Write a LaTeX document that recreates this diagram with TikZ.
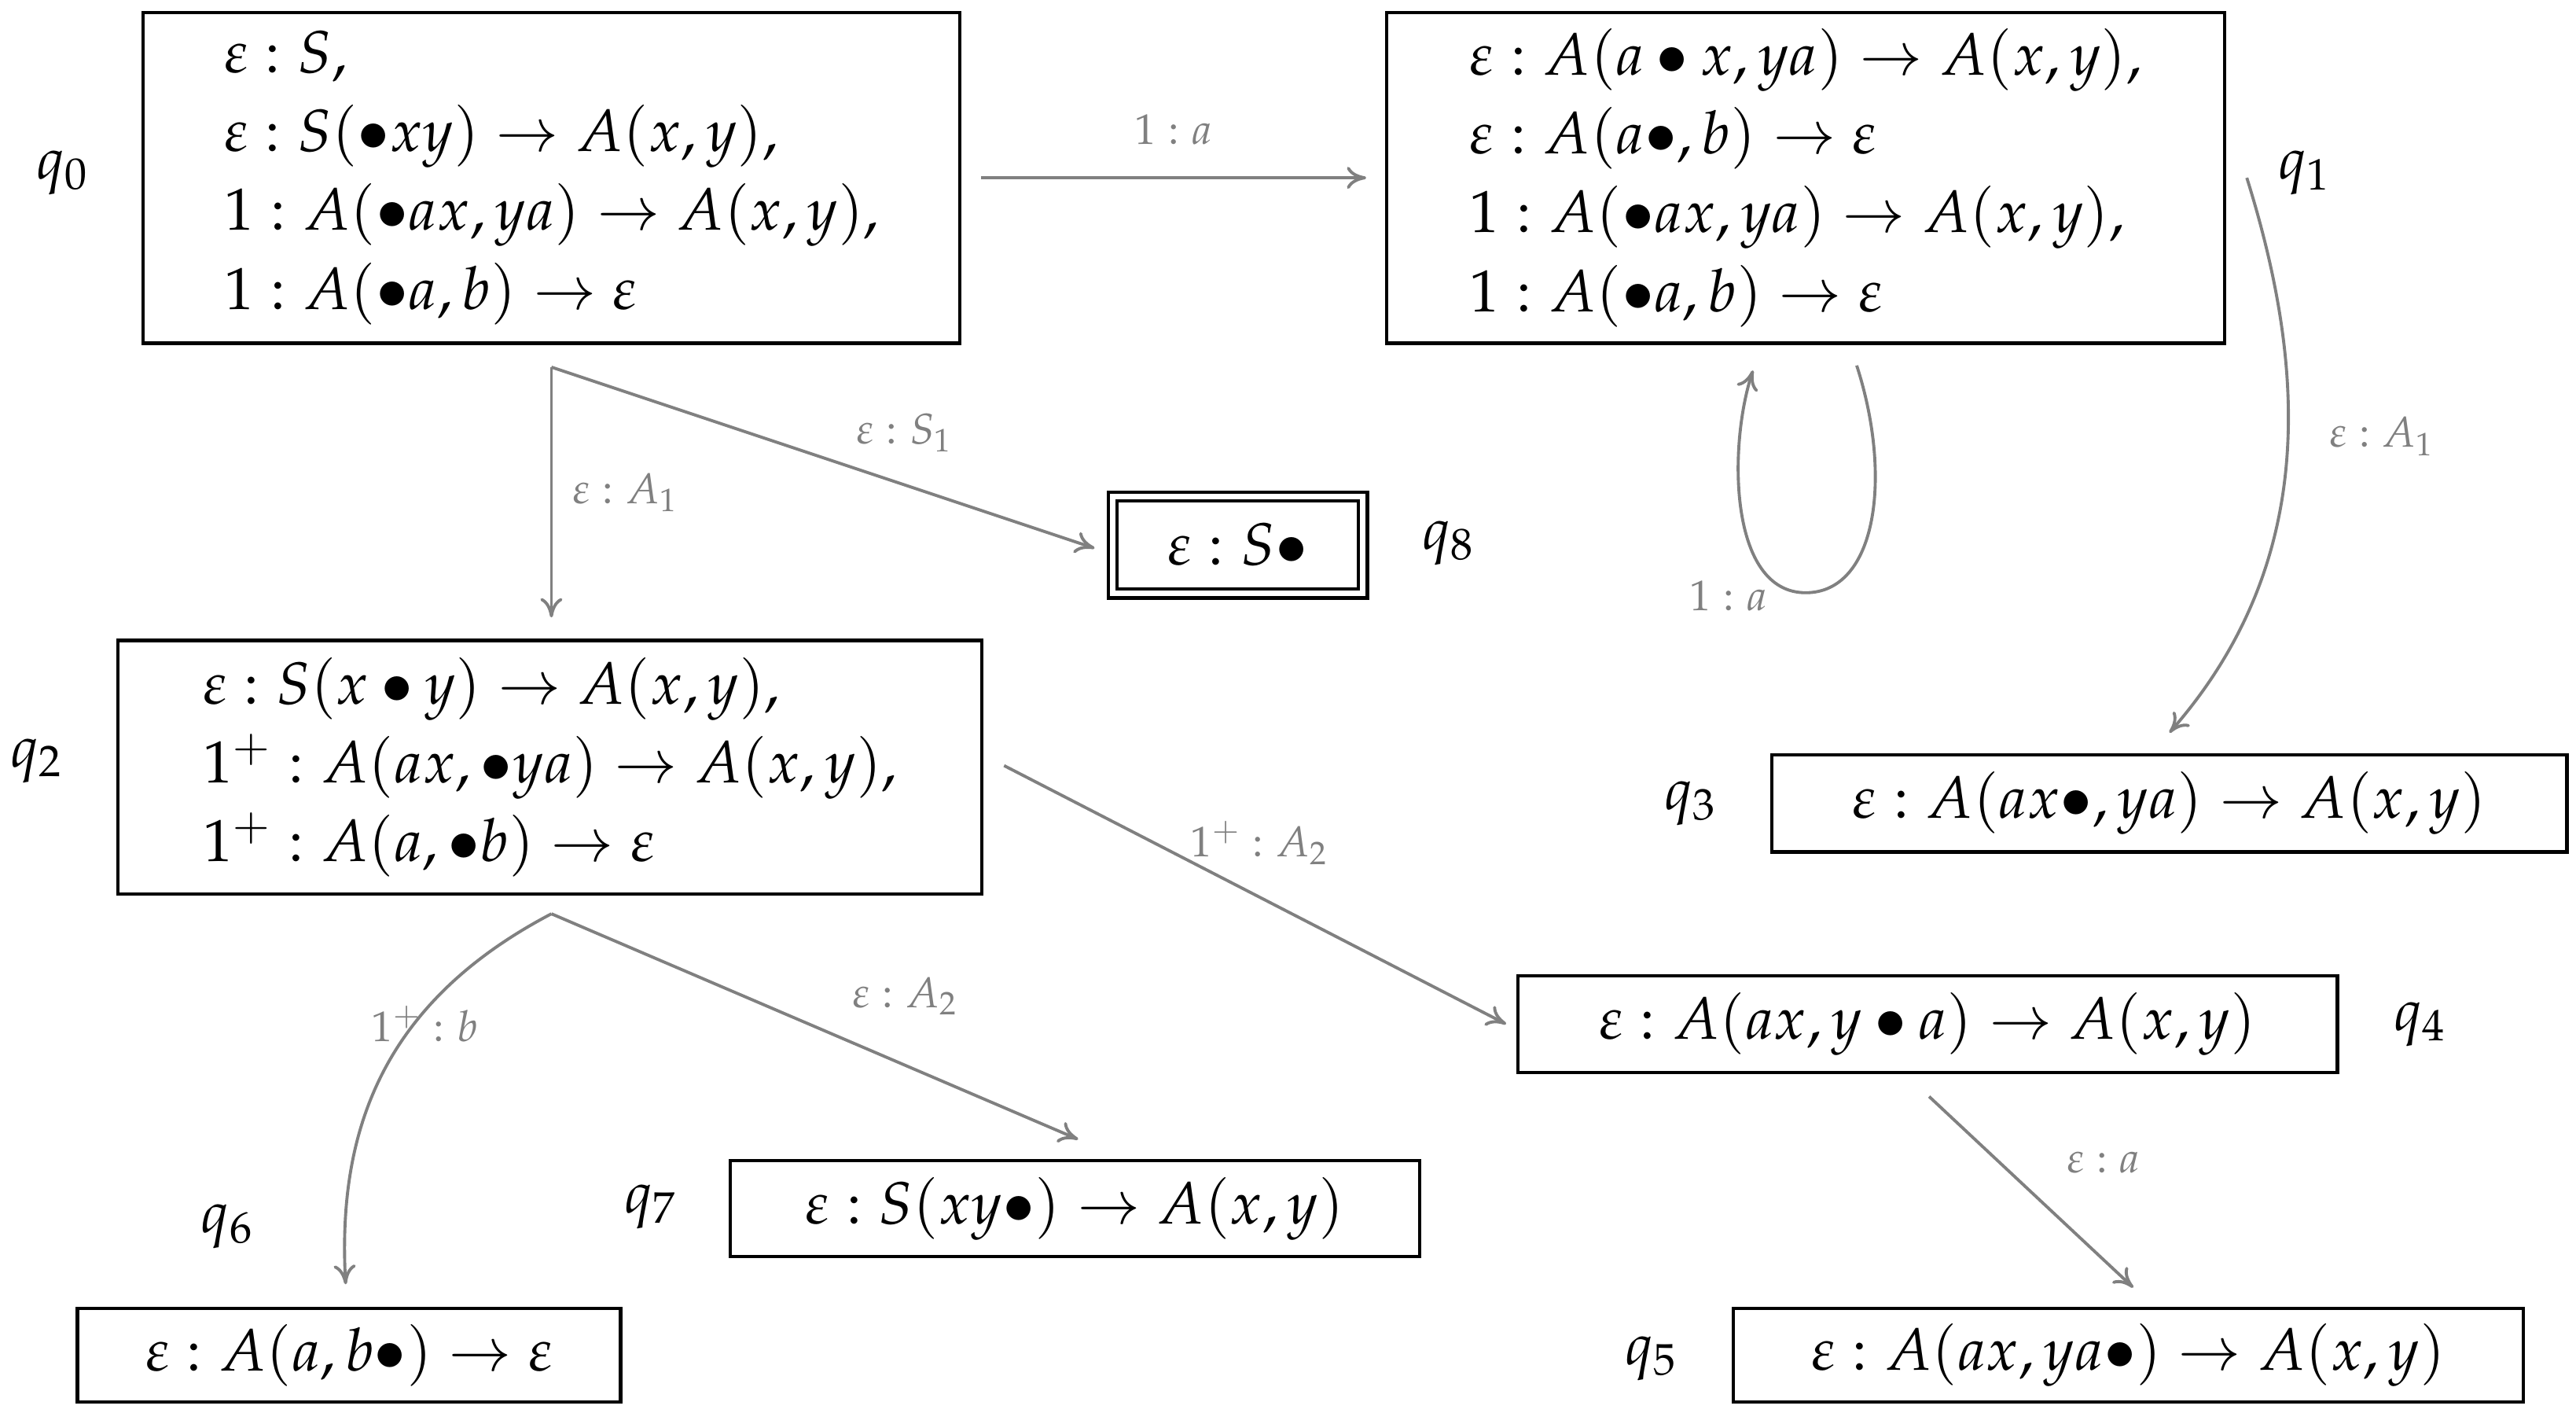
\documentclass[tikz,border=0pt]{standalone}
\usepackage{mathpazo}
\usetikzlibrary{arrows.meta}
\begin{document}
\begin{tikzpicture}[x=0.02094cm,y=-0.02094cm,
 box/.style={draw,line width=1.2pt,inner sep=0pt,align=left,font=\fontsize{21.5}{28.5}\selectfont},
 lab/.style={font=\fontsize{21}{24}\selectfont},
 el/.style={font=\fontsize{15.5}{18}\selectfont,text=gray},
 arr/.style={draw=gray,line width=1.1pt,-{To[length=7pt,width=8pt]}}]
\useasboundingbox (0,0) rectangle (1565,858);
\node[box,minimum width=496*0.02094cm,minimum height=201*0.02094cm] (q0) at (335,108)
 {$\varepsilon : S,$\\ $\varepsilon : S(\bullet xy)\to A(x,y),$\\ $1 : A(\bullet ax,ya)\to A(x,y),$\\ $1 : A(\bullet a,b)\to\varepsilon$};
\node[box,minimum width=509*0.02094cm,minimum height=201*0.02094cm] (q1) at (1097,108)
 {$\varepsilon : A(a\bullet x,ya)\to A(x,y),$\\ $\varepsilon : A(a\bullet,b)\to\varepsilon$\\ $1 : A(\bullet ax,ya)\to A(x,y),$\\ $1 : A(\bullet a,b)\to\varepsilon$};
\node[box,double,double distance=2pt,minimum width=152*0.02094cm,minimum height=59*0.02094cm] (q8) at (752,331) {$\varepsilon : S\bullet$};
\node[box,minimum width=525*0.02094cm,minimum height=154*0.02094cm] (q2) at (334,466)
 {$\varepsilon : S(x\bullet y)\to A(x,y),$\\ $1^{+} : A(ax,\bullet ya)\to A(x,y),$\\ $1^{+} : A(a,\bullet b)\to\varepsilon$};
\node[box,minimum width=483*0.02094cm,minimum height=59*0.02094cm] (q3) at (1318,488) {$\varepsilon : A(ax\bullet,ya)\to A(x,y)$};
\node[box,minimum width=498*0.02094cm,minimum height=59*0.02094cm] (q4) at (1171,622) {$\varepsilon : A(ax,y\bullet a)\to A(x,y)$};
\node[box,minimum width=480*0.02094cm,minimum height=57*0.02094cm] (q5) at (1293,823) {$\varepsilon : A(ax,ya\bullet)\to A(x,y)$};
\node[box,minimum width=330*0.02094cm,minimum height=57*0.02094cm] (q6) at (212,823) {$\varepsilon : A(a,b\bullet)\to\varepsilon$};
\node[box,minimum width=419*0.02094cm,minimum height=58*0.02094cm] (q7) at (653,734) {$\varepsilon : S(xy\bullet)\to A(x,y)$};
\node[lab] (l0) at (38,105) {$q_0$};
\node[lab] (l1) at (1400,105) {$q_1$};
\node[lab] (l8) at (880,330) {$q_8$};
\node[lab] (l2) at (22,462) {$q_2$};
\node[lab] (l3) at (1027,488) {$q_3$};
\node[lab] (l4) at (1470,622) {$q_4$};
\node[lab] (l5) at (1003,825) {$q_5$};
\node[lab] (l6) at (138,745) {$q_6$};
\node[lab] (l7) at (395,733) {$q_7$};
\coordinate (a0) at (596,108); \coordinate (b0) at (830,108);
\draw[arr] (a0) -- (b0) node[el,midway,above=8pt] {$1 : a$};
\coordinate (s0) at (335,223);
\coordinate (t2) at (335,375);\coordinate (t8) at (665,333);
\draw[arr] (s0) -- (t2) node[el,pos=0.5,right=4pt] {$\varepsilon : A_1$};
\draw[arr] (s0) -- (t8) node[el,pos=0.65,above=8pt] {$\varepsilon : S_1$};
\coordinate (ls) at (1128,222); \coordinate (le) at (1065,225);
\draw[arr] (ls) .. controls (1150,290) and (1140,360) .. (1097,360) .. controls (1050,360) and (1050,270) .. (le);
\node[el] (lp) at (1050,362) {$1 : a$};
\coordinate (c1) at (1365,108); \coordinate (c3) at (1318,445);
\draw[arr] (c1) .. controls (1400,220) and (1410,340) .. (c3);
\node[el] (lA) at (1447,265) {$\varepsilon : A_1$};
\coordinate (d2) at (610,465); \coordinate (d4) at (915,622);
\draw[arr] (d2) -- (d4);
\node[el] (lA2) at (765,512) {$1^{+} : A_2$};
\coordinate (s2) at (335,555); \coordinate (e6) at (210,780); \coordinate (e7) at (655,692);
\draw[arr] (s2) .. controls (230,610) and (205,690) .. (e6);
\draw[arr] (s2) -- (e7);
\node[el] (lb) at (258,622) {$1^{+} : b$};
\node[el] (lA3) at (550,605) {$\varepsilon : A_2$};
\coordinate (f4) at (1172,666); \coordinate (f5) at (1296,782);
\draw[arr] (f4) -- (f5);
\node[el] (la) at (1278,706) {$\varepsilon : a$};
\end{tikzpicture}
\end{document}
